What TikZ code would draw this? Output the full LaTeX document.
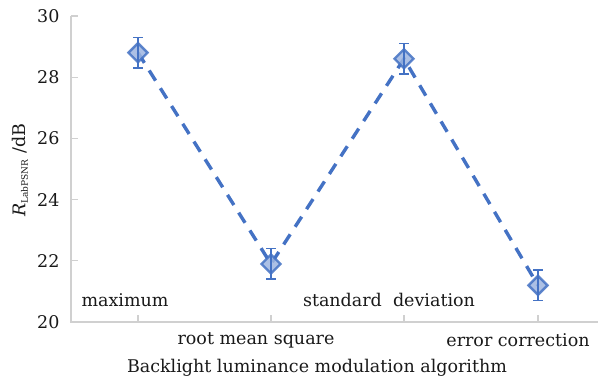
\documentclass[tikz,border=0pt]{standalone}
\usepackage{fontspec}
\setmainfont{DejaVu Serif}
\usetikzlibrary{shapes.geometric}
\definecolor{sblue}{HTML}{4472C4}
\definecolor{lblue}{HTML}{9DB5E0}
\definecolor{axgray}{HTML}{D0D0D0}
\begin{document}
\begin{tikzpicture}[x=1pt,y=-1pt,
  tlab/.style={font=\fontsize{17.5}{20}\selectfont,text=black!90},
  mk/.style={diamond,draw=sblue,fill=lblue,line width=2.4pt,minimum width=20pt,minimum height=20pt,inner sep=0pt},
  ebar/.style={draw=sblue,line width=1.6pt},
  dline/.style={draw=sblue,line width=3.4pt,dash pattern=on 12pt off 9pt}]
\useasboundingbox (0,0) rectangle (598,382);
% axes
\draw[axgray,line width=1.3pt] (71,16) -- (71,322) -- (598,322);
\foreach \v/\y in {30/16,28/77.2,26/138.4,24/199.6,22/260.8,20/322}{
  \draw[axgray,line width=1.3pt] (71,\y) -- (78,\y);
  \node[tlab,anchor=east] (t\v) at (63,\y) {\v};
}
\foreach \x in {138,271,404,538}{
  \draw[axgray,line width=1.3pt] (\x,322) -- (\x,315);
}
% data coordinates
\coordinate (p1) at (138,52.7);
\coordinate (p2) at (271,264.0);
\coordinate (p3) at (404,58.8);
\coordinate (p4) at (538,285.4);
\draw[dline] (p1) -- (p2) -- (p3) -- (p4);
% error bars
\foreach \i/\x/\a/\b in {1/138/37.4/68.0, 2/271/248.7/279.3, 3/404/43.5/74.1, 4/538/270.1/300.7}{
  \coordinate (e\i t) at (\x,\a);
  \coordinate (e\i b) at (\x,\b);
  \draw[ebar] (e\i t) -- (e\i b);
  \draw[ebar] ([xshift=-5pt]e\i t) -- ([xshift=5pt]e\i t);
  \draw[ebar] ([xshift=-5pt]e\i b) -- ([xshift=5pt]e\i b);
}
\foreach \i in {1,2,3,4}{
  \node[mk,opacity=0.85] (m\i) at (p\i) {};
  \draw[ebar] (e\i t) -- (e\i b);
}
% category labels
\node[tlab] (c1) at (125,300) {maximum};
\node[tlab] (c2) at (256,340) {root mean square};
\node[tlab] (c3) at (389,300) {standard\ \ deviation};
\node[tlab] (c4) at (518,340) {error correction};
% axis titles
\node[tlab] (xt) at (317,368) {Backlight luminance modulation algorithm};
\node[tlab,rotate=90] (yt) at (20,170) {{\itshape R}\textsubscript{\fontsize{9}{10}\selectfont LabPSNR} /dB};
\end{tikzpicture}
\end{document}
